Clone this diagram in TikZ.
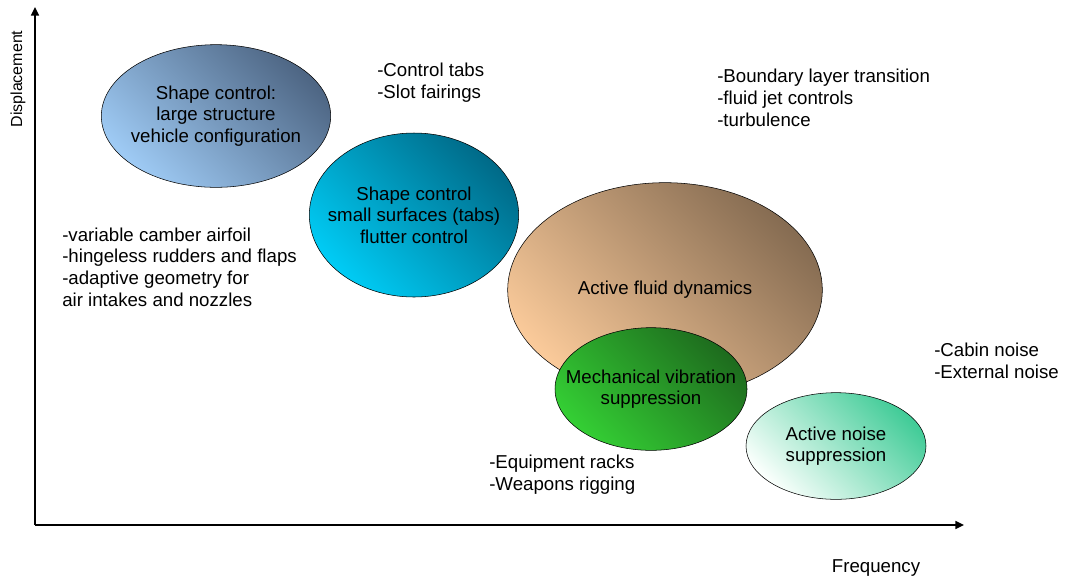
\documentclass[tikz,border=0pt]{standalone}
\usepackage{fontspec}
\setmainfont{Liberation Sans}
\usetikzlibrary{shapes.geometric,arrows.meta}

\definecolor{blueLight}{RGB}{158,202,244}
\definecolor{blueDark}{RGB}{78,102,132}
\definecolor{cyanLight}{RGB}{0,204,245}
\definecolor{cyanDark}{RGB}{0,106,136}
\definecolor{sandLight}{RGB}{250,202,154}
\definecolor{sandDark}{RGB}{134,108,82}
\definecolor{greenLight}{RGB}{52,206,52}
\definecolor{greenDark}{RGB}{30,108,30}
\definecolor{mintLight}{RGB}{250,255,252}
\definecolor{mintDark}{RGB}{66,204,152}

\begin{document}
\begin{tikzpicture}[x=0.75pt,y=-0.75pt]
		\tikzset{field/.style={draw,
							   ellipse,
							   inner sep=0pt},
				 caption/.style={align=center,
								 font=\fontsize{14}{16}\selectfont},
				 shade/.style n args={2}{bottom color=#1,
										  top color=#2,
										  shading angle=-45},
				 note/.style={anchor=west,
							  inner sep=0pt,
							  align=left,
							  font=\fontsize{14}{16.3}\selectfont},
				 axis/.style={-{Triangle[length=6.5pt,width=6pt]},
							  line width=1.1pt}}
		\useasboundingbox (0,0) rectangle (1066,583);

		% Axes
		\coordinate (origin) at (35,525);
		\coordinate (ytop) at (35,7);
		\coordinate (xend) at (964,525);
		\draw[axis] (origin) -- (ytop);
		\draw[axis] (origin) -- (xend);
		\node[rotate=90, font=\fontsize{12}{14}\selectfont] (ylabel) at (18,79) {Displacement};
		\node[font=\fontsize{14}{16}\selectfont] (xlabel) at (876,568) {Frequency};

		% Nodes
		\node[field, shade={blueLight}{blueDark}, minimum width=172pt, minimum height=107pt,
			label={[caption]center:Shape control:\\large structure\\vehicle configuration}] (large) at (216,116) {};
		\node[field, shade={cyanLight}{cyanDark}, minimum width=157pt, minimum height=123pt,
			label={[caption]center:Shape control\\small surfaces (tabs)\\flutter control}] (small) at (414,215) {};
		\node[field, shade={sandLight}{sandDark}, minimum width=236pt, minimum height=161pt,
			label={[caption]center:Active fluid dynamics}] (fluid) at (665,290) {};
		\node[field, shade={greenLight}{greenDark}, minimum width=144pt, minimum height=92pt,
			label={[caption]center:Mechanical vibration\\suppression}] (vibration) at (651,389) {};
		\node[field, shade={mintLight}{mintDark}, minimum width=135pt, minimum height=80pt,
			label={[caption]center:Active noise\\suppression}] (noise) at (836,446) {};

		% Notes
		\node[note] (tabs) at (377,83) {-Control tabs\\-Slot fairings};
		\node[note] (boundary) at (717,98) {-Boundary layer transition\\-fluid jet controls\\-turbulence};
		\node[note] (camber) at (62,267) {-variable camber airfoil\\-hingeless rudders and flaps\\-adaptive geometry for\\air intakes and nozzles};
		\node[note] (cabin) at (934,361) {-Cabin noise\\-External noise};
		\node[note] (racks) at (489,475) {-Equipment racks\\-Weapons rigging};
	\end{tikzpicture}
\end{document}
